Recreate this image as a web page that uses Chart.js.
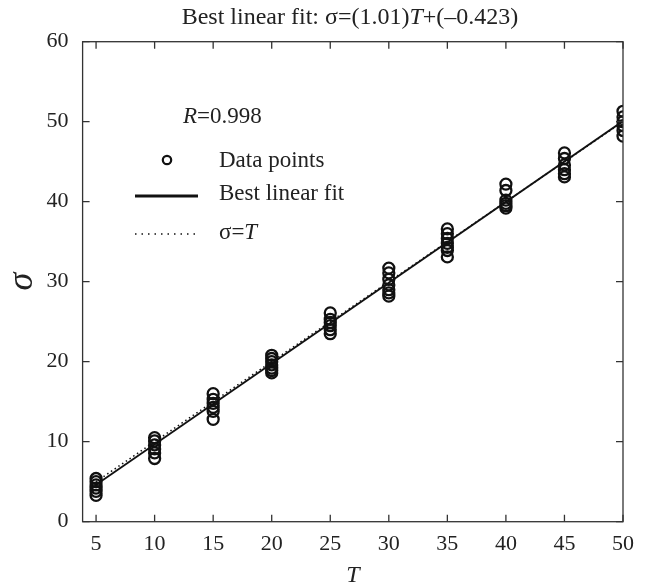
<!DOCTYPE html>
<html>
<head>
<meta charset="utf-8">
<script src="https://cdn.jsdelivr.net/npm/chart.js@4"></script>
<style>
  html, body { margin: 0; padding: 0; background: #fff; }
  #wrap { width: 646px; height: 588px; }
</style>
</head>
<body>
<div id="wrap"><canvas id="myChart" width="646" height="588"></canvas></div>
<script>
// values
const tTicks = [5, 10, 15, 20, 25, 30, 35, 40, 45, 50];
const sigmaAt5 = [5.4, 5.0, 4.6, 4.2, 3.8, 3.3];
const sigmaAt10 = [10.5, 10.1, 9.6, 9.1, 8.6, 7.9];
const sigmaAt15 = [16.0, 15.3, 14.8, 14.3, 13.8, 12.8];
const sigmaAt20 = [20.8, 20.4, 20.0, 19.6, 19.2, 18.9, 18.6];
const sigmaAt25 = [26.1, 25.3, 24.9, 24.5, 24.0, 23.5];
const sigmaAt30 = [31.7, 31.1, 30.3, 29.6, 29.0, 28.6, 28.2];
const sigmaAt35 = [36.6, 36.0, 35.4, 34.8, 34.3, 33.9, 33.1];
const sigmaAt40 = [42.2, 41.4, 40.2, 39.8, 39.5, 39.2];
const sigmaAt45 = [46.1, 45.4, 44.6, 44.0, 43.5, 43.1];
const sigmaAt50 = [51.3, 50.6, 50.0, 49.5, 48.9, 48.2];
const fitT = [5, 50];
const fitSigma = [4.63, 50.08];
const identT = [5, 50];
const identSigma = [5, 50];
const yTicks = [0, 10, 20, 30, 40, 50, 60];

const SERIF = "'Liberation Serif', 'DejaVu Serif', serif";

const groups = [sigmaAt5, sigmaAt10, sigmaAt15, sigmaAt20, sigmaAt25,
                sigmaAt30, sigmaAt35, sigmaAt40, sigmaAt45, sigmaAt50];
const dataPoints = [];
groups.forEach((vals, i) => {
    vals.forEach(v => dataPoints.push({ x: tTicks[i], y: v }));
});
const toXY = (xs, ys) => xs.map((x, i) => ({ x: x, y: ys[i] }));

// draws runs of [text, italic] one after the other
function drawRuns(ctx, runs, x, y, size, align) {
    let total = 0;
    runs.forEach(r => {
        ctx.font = (r[1] ? 'italic ' : '') + size + 'px ' + SERIF;
        total += ctx.measureText(r[0]).width;
    });
    let cx = align === 'center' ? x - total / 2 : x;
    ctx.textAlign = 'left';
    ctx.textBaseline = 'middle';
    runs.forEach(r => {
        ctx.font = (r[1] ? 'italic ' : '') + size + 'px ' + SERIF;
        ctx.fillText(r[0], cx, y);
        cx += ctx.measureText(r[0]).width;
    });
}

const framePlugin = {
    id: 'frame',
    afterDatasetsDraw(chart) {
        const ctx = chart.ctx;
        const a = chart.chartArea;
        const xs = chart.scales.x, ys = chart.scales.y;
        const tl = 7;
        ctx.save();
        ctx.strokeStyle = '#333';
        ctx.lineWidth = 1.3;
        ctx.strokeRect(a.left, a.top, a.right - a.left, a.bottom - a.top);
        ctx.beginPath();
        xs.ticks.forEach(t => {
            const px = xs.getPixelForValue(t.value);
            ctx.moveTo(px, a.bottom); ctx.lineTo(px, a.bottom - tl);
            ctx.moveTo(px, a.top); ctx.lineTo(px, a.top + tl);
        });
        ys.ticks.forEach(t => {
            const py = ys.getPixelForValue(t.value);
            ctx.moveTo(a.left, py); ctx.lineTo(a.left + tl, py);
            ctx.moveTo(a.right, py); ctx.lineTo(a.right - tl, py);
        });
        ctx.stroke();
        ctx.restore();
    },
    afterDraw(chart) {
        const ctx = chart.ctx;
        ctx.save();
        ctx.fillStyle = '#222';
        // title
        drawRuns(ctx, [['Best linear fit: σ=(1.01)', false], ['T', true], ['+(\u20130.423)', false]],
                 350, 18, 24, 'center');
        // R value
        drawRuns(ctx, [['R', true], ['=0.998', false]], 183, 117, 23, 'left');
        // legend
        ctx.strokeStyle = '#111';
        ctx.lineWidth = 2.2;
        ctx.beginPath();
        ctx.arc(167, 160, 4.2, 0, Math.PI * 2);
        ctx.stroke();
        ctx.lineWidth = 3;
        ctx.beginPath();
        ctx.moveTo(135, 196); ctx.lineTo(198, 196);
        ctx.stroke();
        ctx.lineWidth = 1.5;
        ctx.setLineDash([1.5, 5]);
        ctx.beginPath();
        ctx.moveTo(135, 234); ctx.lineTo(198, 234);
        ctx.stroke();
        ctx.setLineDash([]);
        drawRuns(ctx, [['Data points', false]], 219, 161, 23, 'left');
        drawRuns(ctx, [['Best linear fit', false]], 219, 194, 23, 'left');
        drawRuns(ctx, [['σ=', false], ['T', true]], 219, 233, 23, 'left');
        ctx.restore();
    }
};

const ctx = document.getElementById('myChart').getContext('2d');
const chart = new Chart(ctx, {
    type: 'scatter',
    data: {
        datasets: [
            {
                label: 'Data points',
                data: dataPoints,
                pointStyle: 'circle',
                pointRadius: 5.5,
                pointBorderWidth: 2.3,
                pointBorderColor: '#111',
                pointBackgroundColor: 'rgba(0,0,0,0)',
                order: 1
            },
            {
                label: 'Best linear fit',
                data: toXY(fitT, fitSigma),
                showLine: true,
                borderColor: '#111',
                borderWidth: 1.8,
                pointRadius: 0,
                order: 2
            },
            {
                label: 'σ=T',
                data: toXY(identT, identSigma),
                showLine: true,
                borderColor: '#111',
                borderWidth: 1.5,
                borderDash: [1.5, 3],
                pointRadius: 0,
                order: 3
            }
        ]
    },
    options: {
        responsive: false,
        animation: false,
        layout: { padding: { top: 41.7, right: 23, left: 0, bottom: 0 } },
        plugins: {
            legend: { display: false },
            title: { display: false },
            tooltip: { enabled: false }
        },
        scales: {
            x: {
                type: 'linear',
                min: 3.85,
                max: 50,
                grid: { display: false, drawTicks: false },
                border: { display: false },
                afterBuildTicks: s => { s.ticks = tTicks.map(v => ({ value: v })); },
                afterFit: s => { s.height = 66.3; },
                ticks: {
                    padding: 9,
                    color: '#222',
                    font: { family: SERIF, size: 22 },
                    maxRotation: 0
                },
                title: {
                    display: true,
                    text: 'T',
                    color: '#222',
                    font: { family: SERIF, size: 24, style: 'italic', lineHeight: 1 },
                    padding: { top: 0, bottom: 0 }
                }
            },
            y: {
                min: 0,
                max: 60,
                grid: { display: false, drawTicks: false },
                border: { display: false },
                afterBuildTicks: s => { s.ticks = yTicks.map(v => ({ value: v })); },
                afterFit: s => { s.width = 82.6; },
                ticks: {
                    padding: 14,
                    color: '#222',
                    font: { family: SERIF, size: 22 }
                },
                title: {
                    display: true,
                    text: 'σ',
                    color: '#222',
                    font: { family: SERIF, size: 36, style: 'italic', lineHeight: 1 },
                    padding: { top: 5, bottom: 0 }
                }
            }
        }
    },
    plugins: [framePlugin]
});
</script>
</body>
</html>
